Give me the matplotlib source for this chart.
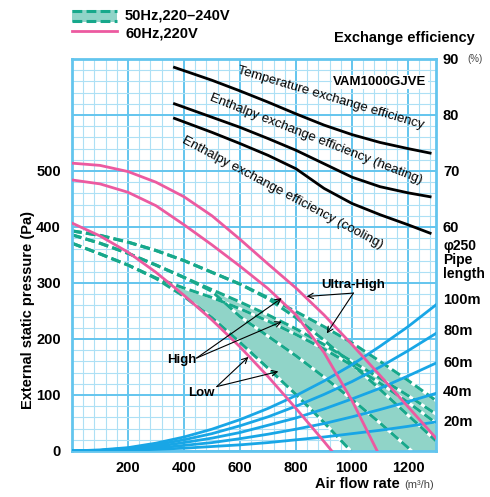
import numpy as np
import matplotlib.pyplot as plt
from matplotlib.lines import Line2D
from matplotlib.patches import Rectangle
from matplotlib.ticker import MultipleLocator

plt.rcParams['font.family'] = ['Liberation Sans', 'DejaVu Sans']

# air flow (m3/h) sample points
flow = np.arange(0, 1400, 100)

# 60Hz 220V fan curves (Pa)
pink_uh = [514, 510, 499, 480, 454, 420, 378, 334, 291, 243, 190, 135, 79, 23]
pink_high = [484, 477, 462, 438, 404, 368, 330, 290, 243, 176, 90, -10]
pink_low = [407, 384, 355, 319, 278, 234, 186, 133, 76, 17, -44]

# 50Hz 220-240V bands (Pa)
uh_240 = [393, 385, 373, 358, 340, 319, 298, 274, 249, 222, 193, 160, 126, 90]
uh_220 = [393, 385, 373, 358, 340, 319, 298, 272, 238, 198, 155, 110, 64, 18]
high_240 = [386, 371, 353, 332, 310, 288, 266, 243, 218, 190, 160, 130, 99, 66]
high_220 = [386, 371, 353, 332, 310, 285, 240, 205, 170, 132, 92, 50, 6, -40]
low_240 = [371, 352, 332, 309, 291, 274, 254, 232, 208, 182, 153, 121, 87, 50]
low_220 = [371, 352, 332, 308, 276, 238, 194, 148, 101, 51, -2, -55]

# pipe length resistance curves (Pa)
pipe_labels = ['100m', '80m', '60m', '40m', '20m']
pipe_curves = [
    [0, 2, 6, 14, 25, 39, 56, 76, 99, 125, 154, 187, 222, 261],
    [0, 1, 5, 11, 20, 31, 45, 61, 80, 101, 124, 150, 179, 210],
    [0, 1, 4, 8, 15, 23, 33, 46, 59, 75, 93, 112, 134, 157],
    [0, 1, 2, 5, 10, 15, 22, 30, 39, 49, 61, 74, 88, 103],
    [0, 0, 1, 3, 5, 8, 11, 15, 20, 25, 31, 37, 44, 52],
]
pipe_label_y = [270, 215, 158, 105, 52]

# exchange efficiency (%)
eff_flow = [366, 500, 600, 700, 800, 900, 1000, 1100, 1200, 1279]
eff_temp = [88.5, 86.2, 84.3, 82.3, 80.2, 78.2, 76.5, 75.1, 74.0, 73.2]
eff_heat = [82.0, 79.6, 77.8, 75.8, 73.7, 71.3, 68.9, 67.2, 66.1, 65.4]
eff_cool = [79.4, 76.9, 74.9, 72.8, 70.4, 66.9, 64.2, 62.2, 60.4, 58.9]

PINK = '#ec5aa0'
GREEN = '#17a88b'
FILL = '#90d4c8'
BLUE = '#18a6e6'

fig = plt.figure(figsize=(4.9, 4.97), dpi=100)
ax = fig.add_axes([72 / 490, 46 / 497, 364 / 490, 392 / 497])
ax.set_xlim(0, 1300)
ax.set_ylim(0, 700)

ax.xaxis.set_minor_locator(MultipleLocator(40))
ax.yaxis.set_minor_locator(MultipleLocator(20))
ax.set_xticks(range(0, 1301, 200))
ax.set_xticklabels([''] + [str(v) for v in range(200, 1201, 200)])
ax.set_yticks(range(0, 701, 100))
ax.set_yticklabels([str(v) for v in range(0, 501, 100)] + ['', ''])
ax.tick_params(which='both', length=0)
ax.tick_params(axis='x', pad=7)
ax.tick_params(axis='y', pad=8)
for lab in ax.get_xticklabels() + ax.get_yticklabels():
    lab.set_fontweight('bold')
    lab.set_fontsize(10.5)
ax.grid(which='minor', color='#ade0f5', lw=0.8, zorder=0)
ax.grid(which='major', color='#63c5ee', lw=1.4, zorder=0)
ax.set_axisbelow(True)
for s in ax.spines.values():
    s.set_color('#63c5ee')
    s.set_linewidth(2)


def arr(v):
    a = np.full(len(flow), -100.0)
    a[:len(v)] = v
    return a


# bands
for top, bot in [(uh_240, uh_220), (high_240, high_220), (low_240, low_220)]:
    ax.fill_between(flow, arr(top), arr(bot), color=FILL, lw=0, zorder=1)

for v in [uh_240, uh_220, high_240, high_220, low_240, low_220]:
    x = flow[:len(v)]
    ax.plot(x, v, color='white', lw=2.2, zorder=2)
    ax.plot(x, v, color=GREEN, lw=2.2, ls=(0, (3.2, 1.4)), zorder=2.1)

for v in pipe_curves:
    ax.plot(flow, v, color=BLUE, lw=2, zorder=3)

for v in [pink_uh, pink_high, pink_low]:
    ax.plot(flow[:len(v)], v, color=PINK, lw=2, zorder=4)

# efficiency axis
ax2 = ax.twinx()
ax2.set_ylim(20, 90)
ax2.set_yticks([60, 70, 80, 90])
ax2.set_yticklabels(['60', '70', '80', '90'], fontweight='bold', fontsize=10.5)
ax2.tick_params(length=0, pad=5)
for s in ax2.spines.values():
    s.set_visible(False)
for v in [eff_temp, eff_heat, eff_cool]:
    ax2.plot(eff_flow, v, color='black', lw=2)

ax.text(925, 630, 'Temperature exchange efficiency', rotation=-16.6, ha='center', va='center',
        rotation_mode='anchor', fontsize=9.5, zorder=6)
ax.text(873, 557, 'Enthalpy exchange efficiency (heating)', rotation=-21.5, ha='center', va='center',
        rotation_mode='anchor', fontsize=9.5, zorder=6)
ax.text(752, 462, 'Enthalpy exchange efficiency (cooling)', rotation=-28, ha='center', va='center',
        rotation_mode='anchor', fontsize=9.5, zorder=6)
ax.text(1100, 659, 'VAM1000GJVE', ha='center', va='center', fontsize=9.5, fontweight='bold',
        zorder=6, bbox=dict(facecolor='white', edgecolor='none', pad=1))

# notch labels
ax.text(1004, 296, 'Ultra-High', ha='center', va='center', fontsize=9.5, fontweight='bold', zorder=7)
ax.text(392, 162, 'High', ha='center', va='center', fontsize=9.5, fontweight='bold', zorder=7)
ax.text(463, 103, 'Low', ha='center', va='center', fontsize=9.5, fontweight='bold', zorder=7)
ap = dict(arrowstyle='->', lw=0.8, color='black', shrinkA=0, shrinkB=0)
for tail, tip in [((1005, 282), (838, 276)), ((1005, 282), (910, 210)),
                  ((445, 166), (749, 273)), ((445, 166), (749, 231)),
                  ((517, 115), (630, 168)), ((517, 115), (737, 142))]:
    ax.annotate('', xy=tip, xytext=tail, arrowprops=ap, zorder=7)

# right side labels
ax.text(1411, 700, '(%)', ha='left', va='center', fontsize=7, color='#444444', clip_on=False)
ax.text(1325, 366, '\u03c6250', ha='left', va='center', fontsize=10, fontweight='bold', clip_on=False)
ax.text(1325, 341, 'Pipe', ha='left', va='center', fontsize=10, fontweight='bold', clip_on=False)
ax.text(1325, 316, 'length', ha='left', va='center', fontsize=10, fontweight='bold', clip_on=False)
for lab, y in zip(pipe_labels, pipe_label_y):
    ax.text(1325, y, lab, ha='left', va='center', fontsize=10.5, fontweight='bold', clip_on=False)

fig.text(475 / 490, 1 - 38 / 497, 'Exchange efficiency', ha='right', va='center',
         fontsize=10.5, fontweight='bold')
fig.text(28 / 490, 1 - 310 / 497, 'External static pressure (Pa)', rotation=90,
         ha='center', va='center', fontsize=10.5, fontweight='bold')
fig.text(400 / 490, 1 - 484 / 497, 'Air flow rate', ha='right', va='center',
         fontsize=10.5, fontweight='bold')
fig.text(404 / 490, 1 - 485 / 497, '(m³/h)', ha='left', va='center', fontsize=8, color='#444444')

# legend
fig.add_artist(Rectangle((72 / 490, 1 - 22 / 497), 45 / 490, 12 / 497,
                         transform=fig.transFigure, facecolor=FILL, edgecolor='none'))
for yy in [10.5, 21]:
    fig.add_artist(Line2D([72 / 490, 117 / 490], [1 - yy / 497] * 2, color=GREEN, lw=2.2,
                          ls=(0, (3.2, 1.4)), transform=fig.transFigure))
fig.add_artist(Line2D([72 / 490, 117 / 490], [1 - 31 / 497] * 2, color=PINK, lw=2,
                      transform=fig.transFigure))
fig.text(125 / 490, 1 - 15 / 497, '50Hz,220–240V', ha='left', va='center', fontsize=10.5, fontweight='bold')
fig.text(125 / 490, 1 - 33 / 497, '60Hz,220V', ha='left', va='center', fontsize=10.5, fontweight='bold')

fig.savefig('out.png', dpi=100)
